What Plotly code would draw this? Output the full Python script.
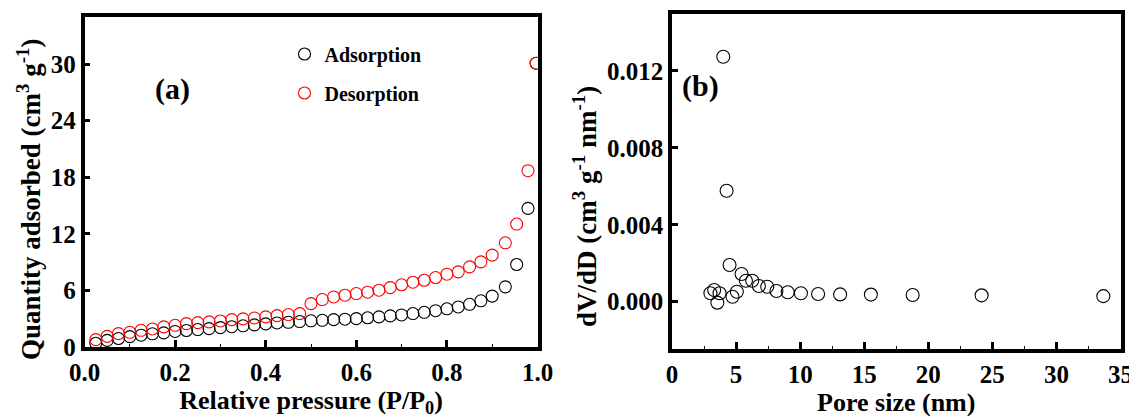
import plotly.graph_objects as go

# ---- (a) N2 adsorption / desorption isotherm ----
p_rel = [0.025, 0.05, 0.075, 0.1, 0.125, 0.15, 0.175, 0.2, 0.225, 0.25, 0.275, 0.3,
         0.325, 0.35, 0.375, 0.4, 0.425, 0.45, 0.475, 0.5, 0.525, 0.55, 0.575, 0.6,
         0.625, 0.65, 0.675, 0.7, 0.725, 0.75, 0.775, 0.8, 0.825, 0.85, 0.875, 0.9,
         0.929, 0.954, 0.979, 0.997]
adsorption = [0.4, 0.7, 0.9, 1.1, 1.25, 1.4, 1.5, 1.65, 1.75, 1.85, 1.95, 2.05,
              2.15, 2.25, 2.35, 2.45, 2.55, 2.62, 2.7, 2.78, 2.83, 2.9, 2.95, 3.01,
              3.1, 3.19, 3.3, 3.4, 3.55, 3.68, 3.85, 4.05, 4.25, 4.53, 4.9, 5.4,
              6.38, 8.75, 14.7, 30.1]
desorption = [0.78, 1.13, 1.42, 1.56, 1.77, 1.91, 2.13, 2.3, 2.48, 2.59, 2.66, 2.76,
              2.9, 2.98, 3.08, 3.19, 3.33, 3.44, 3.54, 4.6, 5.03, 5.31, 5.49, 5.67,
              5.81, 6.02, 6.3, 6.6, 6.87, 7.08, 7.37, 7.72, 7.97, 8.5, 9.03, 9.74,
              11.05, 13.04, 18.7, 30.1]

# ---- (b) pore size distribution ----
pore_size = [3.0, 3.29, 3.54, 3.71, 4.0, 4.26, 4.49, 4.72, 5.06, 5.43, 5.77, 6.26,
             6.78, 7.43, 8.15, 9.03, 10.06, 11.4, 13.12, 15.52, 18.78, 24.16, 33.66]
dv_dd = [0.00044, 0.00061, -0.00005, 0.00044, 0.01274, 0.00577, 0.00191, 0.00026,
         0.00052, 0.00144, 0.00109, 0.00109, 0.00082, 0.00078, 0.00056, 0.00049,
         0.00044, 0.00040, 0.00038, 0.00037, 0.00035, 0.00033, 0.00029]

left_yticks = [0, 6, 12, 18, 24, 30]
left_xticks = [0.0, 0.2, 0.4, 0.6, 0.8, 1.0]
left_xticklabels = ["0.0", "0.2", "0.4", "0.6", "0.8", "1.0"]
right_yticks = [0.0, 0.004, 0.008, 0.012]
right_yticklabels = ["0.000", "0.004", "0.008", "0.012"]
right_xticks = [0, 5, 10, 15, 20, 25, 30, 35]

FONT = "Liberation Serif"
W, H = 1137, 418
OFF = 8  # page body margin


def sx(px):
    return (px - OFF) / W


def sy(py):
    return (H - (py - OFF)) / H


fig = go.Figure()
fig.add_trace(go.Scatter(x=p_rel, y=adsorption, mode="markers", name="<b>Adsorption</b>",
                         legendgroup="a1",
                         marker=dict(symbol="circle-open", size=12, color="black",
                                     line=dict(width=1.1, color="black")),
                         xaxis="x", yaxis="y"))
fig.add_trace(go.Scatter(x=p_rel, y=desorption, mode="markers", name="<b>Desorption</b>",
                         legendgroup="a2",
                         marker=dict(symbol="circle-open", size=12, color="red",
                                     line=dict(width=1.1, color="red")),
                         xaxis="x", yaxis="y"))
fig.add_trace(go.Scatter(x=pore_size, y=dv_dd, mode="markers", showlegend=False,
                         marker=dict(symbol="circle-open", size=13, color="black",
                                     line=dict(width=1.1, color="black")),
                         xaxis="x2", yaxis="y2"))

tickfont = dict(family=FONT, size=25, color="black")
titlefont = dict(family=FONT, size=26, color="black")

common = dict(showline=True, linewidth=3.5, linecolor="black", mirror=True,
              ticks="inside", tickwidth=3, tickcolor="black",
              showgrid=False, zeroline=False, tickfont=tickfont, automargin=False)

fig.update_layout(
    width=W, height=H,
    margin=dict(l=0, r=0, t=0, b=0),
    plot_bgcolor="white", paper_bgcolor="white",
    font=dict(family=FONT, color="black"),
    xaxis=dict(domain=[sx(84.5), sx(537.5)], range=[0, 1.0], anchor="y", ticklen=7,
               tickvals=left_xticks, ticktext=[f"<b>{t}</b>" for t in left_xticklabels],
               minor=dict(ticks="inside", ticklen=3, tickwidth=1, tickcolor="black", dtick=0.1),
               title=dict(text="<b>Relative pressure (P/P<sub>0</sub>)</b>", font=titlefont, standoff=6),
               **common),
    yaxis=dict(domain=[sy(347), sy(17)], range=[0, 35.0], anchor="x", ticklen=6,
               tickvals=left_yticks, ticktext=[f"<b>{t}</b>" for t in left_yticks],
               **common),
    xaxis2=dict(domain=[sx(672), sx(1120.5)], range=[0, 35], anchor="y2", ticklen=7,
                tickvals=right_xticks, ticktext=[f"<b>{t}</b>" for t in right_xticks],
                minor=dict(ticks="inside", ticklen=3, tickwidth=1, tickcolor="black", dtick=2.5),
                title=dict(text="<b>Pore size (nm)</b>", font=titlefont, standoff=6),
                **common),
    yaxis2=dict(domain=[sy(349), sy(13.5)], range=[-0.00246, 0.01499], anchor="x2", ticklen=6,
                tickvals=right_yticks, ticktext=[f"<b>{t}</b>" for t in right_yticklabels],
                **common),
    legend=dict(x=sx(284.5), y=sy(34.5), xanchor="left", yanchor="top",
                bgcolor="rgba(0,0,0,0)", font=dict(family=FONT, size=20, color="black"),
                tracegroupgap=10),
    annotations=[
        dict(text="<b>Quantity adsorbed (cm<sup>3</sup> g<sup>-1</sup>)</b>", textangle=-90,
             x=sx(29), y=sy(200), xref="paper", yref="paper", xanchor="center", yanchor="middle",
             showarrow=False, font=dict(family=FONT, size=27, color="black")),
        dict(text="<b>dV/dD (cm<sup>3</sup> g<sup>-1</sup> nm<sup>-1</sup>)</b>", textangle=-90,
             x=sx(585), y=sy(207), xref="paper", yref="paper", xanchor="center", yanchor="middle",
             showarrow=False, font=dict(family=FONT, size=27, color="black")),
        dict(text="<b>(a)</b>", x=sx(172), y=sy(89), xref="paper", yref="paper",
             xanchor="center", yanchor="middle",
             showarrow=False, font=dict(family=FONT, size=30, color="black")),
        dict(text="<b>(b)</b>", x=sx(700), y=sy(86), xref="paper", yref="paper",
             xanchor="center", yanchor="middle",
             showarrow=False, font=dict(family=FONT, size=30, color="black")),
    ],
)

fig.write_html("out.html")
